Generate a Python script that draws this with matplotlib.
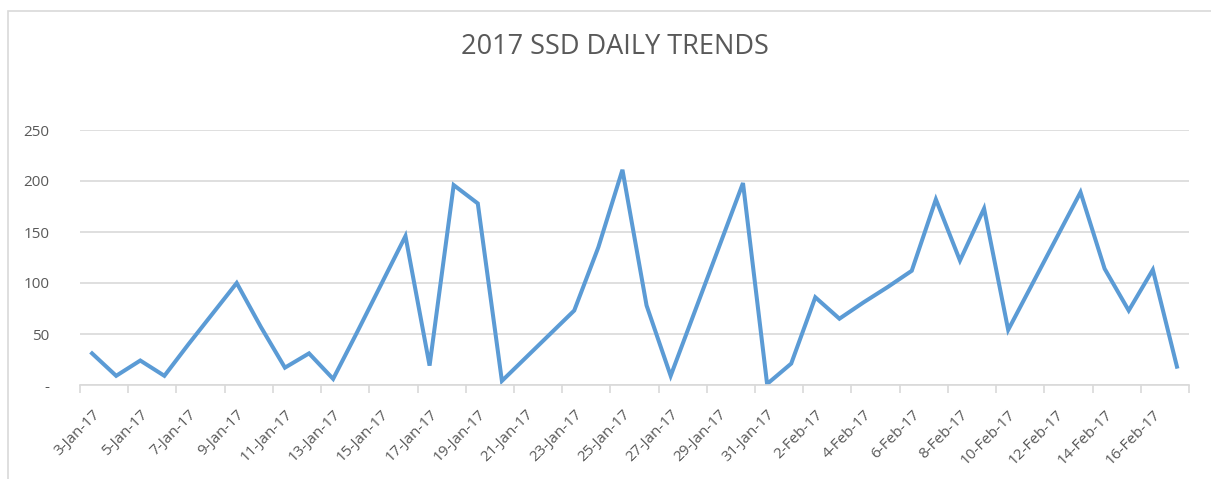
import numpy as np
import pandas as pd
import matplotlib
matplotlib.use("Agg")
import matplotlib.pyplot as plt
from matplotlib.patches import Rectangle

plt.rcParams['font.family'] = ['Open Sans', 'DejaVu Sans']

# daily values, 3-Jan-17 .. 17-Feb-17
days = pd.date_range('2017-01-03', '2017-02-17', freq='D')
labels = [f"{d.day}-{d.strftime('%b')}-17" for d in days]
ssd = [31, 9, 24, 9, 40, 70, 100, 57, 17, 31, 6, 52, 99, 146, 19, 196,
       178, 4, 27, 50, 73, 135, 211, 78, 9, 72, 135, 198, 1, 21, 86, 65,
       81, 96, 112, 182, 122, 173, 54, 99, 144, 189, 114, 73, 113, 18]
yticks = [0, 50, 100, 150, 200, 250]
ylabels = ['-', '50', '100', '150', '200', '250']

grey = '#595959'

fig = plt.figure(figsize=(12.11, 4.79), dpi=100)
fig.patches.append(Rectangle((8/1211, -0.1), 1.2, 1 - 11/479 + 0.1,
                             transform=fig.transFigure, fill=False,
                             edgecolor='#d9d9d9', linewidth=1.2))
ax = fig.add_axes([80/1211, 1 - 385/479, 1109/1211, 255/479])

x = np.arange(len(ssd))
ax.plot(x, ssd, color='#5b9bd5', linewidth=2.9, solid_joinstyle='miter')

ax.set_xlim(-0.5, len(ssd) - 0.5)
ax.set_ylim(0, 250)
ax.set_yticks(yticks)
ax.set_yticklabels(ylabels)
ax.yaxis.grid(True, color='#d9d9d9', linewidth=1.2)
ax.set_axisbelow(True)

ax.set_xticks(x[::2])
ax.set_xticklabels(labels[::2], rotation=45, ha='right', rotation_mode='anchor')
ax.set_xticks(np.arange(-0.5, len(ssd), 2), minor=True)
ax.tick_params(axis='x', which='major', length=0, pad=16, labelsize=11, labelcolor=grey)
ax.tick_params(axis='x', which='minor', length=6, color='#d9d9d9', width=1.2)
ax.tick_params(axis='y', length=0, pad=22, labelsize=11, labelcolor=grey)

for s in ['top', 'right', 'left']:
    ax.spines[s].set_visible(False)
ax.spines['bottom'].set_color('#d9d9d9')
ax.spines['bottom'].set_linewidth(1.2)

fig.text(615/1211, 1 - 47/479, '2017 SSD DAILY TRENDS', ha='center', va='center',
         fontsize=19.5, color=grey)

fig.savefig('out.png', dpi=100)
